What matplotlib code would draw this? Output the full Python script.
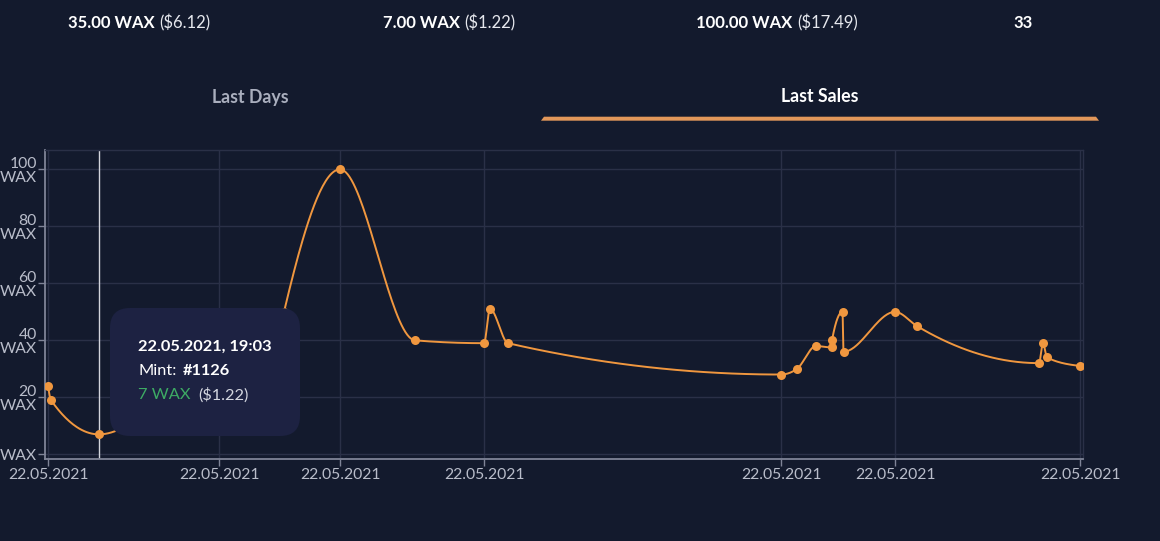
import numpy as np
import matplotlib
matplotlib.use('Agg')
import matplotlib.pyplot as plt
from matplotlib.patches import FancyBboxPatch, Polygon

# sale positions along the time axis (relative units) and prices in WAX
sale_time = [0, 3, 51, 171, 218, 236, 292, 367, 436, 442, 460, 733, 749, 768,
             783.5, 784, 794.5, 795.5, 847, 869, 991, 995, 999, 1032]
sale_wax = [24, 19, 7, 30, 20, 50, 100, 40, 39, 51, 39, 28, 30, 38,
            37.5, 40, 50, 36, 50, 45, 32, 39, 34, 31]
tick_idx = [0, 3, 6, 8, 11, 18, 23]
date_label = '22.05.2021'
y_ticks = [0, 20, 40, 60, 80, 100]
y_labels = ['WAX', '20\nWAX', '40\nWAX', '60\nWAX', '80\nWAX', '100\nWAX']

stats = [('35.00 WAX', '($6.12)'), ('7.00 WAX', '($1.22)'),
         ('100.00 WAX', '($17.49)'), ('33', '')]
stat_x = [139, 449, 777, 1023]
tabs = ['Last Days', 'Last Sales']
tab_x = [250, 820]

hover = 2
tip_date = '22.05.2021, 19:03'
tip_mint = '#1126'
tip_wax = '7 WAX'
tip_usd = '($1.22)'

BG = '#131a2d'
GRID = '#2a3047'
AXIS = '#7f8497'
LABEL = '#b9bdca'
ORANGE = '#f0973f'
TIP = '#1d2242'
GREEN = '#3dab64'

plt.rcParams['font.family'] = ['Lato', 'DejaVu Sans']


def monotone_x(x, y, n=40):
    # same curve as d3 curveMonotoneX
    x = np.asarray(x, float)
    y = np.asarray(y, float)
    h = np.diff(x)
    s = np.diff(y) / h
    t = np.zeros(len(x))
    for i in range(1, len(x) - 1):
        p = (s[i - 1] * h[i] + s[i] * h[i - 1]) / (h[i - 1] + h[i])
        t[i] = (np.sign(s[i - 1]) + np.sign(s[i])) * min(abs(s[i - 1]), abs(s[i]), 0.5 * abs(p))
    t[0] = (3 * s[0] - t[1]) / 2
    t[-1] = (3 * s[-1] - t[-2]) / 2
    xs, ys = [], []
    u = np.linspace(0, 1, n)
    h00 = 2 * u**3 - 3 * u**2 + 1
    h10 = u**3 - 2 * u**2 + u
    h01 = -2 * u**3 + 3 * u**2
    h11 = u**3 - u**2
    for i in range(len(x) - 1):
        xs.append(x[i] + u * h[i])
        ys.append(h00 * y[i] + h10 * h[i] * t[i] + h01 * y[i + 1] + h11 * h[i] * t[i + 1])
    return np.concatenate(xs), np.concatenate(ys)


W, H = 1160, 541
fig = plt.figure(figsize=(W / 100, H / 100), dpi=100, facecolor=BG)

ax = fig.add_axes([45 / W, (H - 459.3) / H, 1038 / W, 309.3 / H])
ax.set_facecolor(BG)
ax.set_xlim(-3, 1035)
ax.set_ylim(-1.75, 106.8)

for v in y_ticks:
    ax.axhline(v, color=GRID, lw=1, zorder=0)
for i in tick_idx:
    ax.axvline(sale_time[i], color=GRID, lw=1, zorder=0)

for side in ['left', 'bottom']:
    ax.spines[side].set_color(AXIS)
    ax.spines[side].set_linewidth(1.3)
for side in ['top', 'right']:
    ax.spines[side].set_color(GRID)
    ax.spines[side].set_linewidth(1)

ax.set_yticks(y_ticks)
ax.set_yticklabels(y_labels)
ax.set_xticks([sale_time[i] for i in tick_idx])
ax.set_xticklabels([date_label] * len(tick_idx))
ax.tick_params(axis='both', length=5, width=1, color=AXIS, labelcolor=LABEL, labelsize=11.3)
ax.tick_params(axis='y', pad=1)
ax.tick_params(axis='x', pad=1)
for lab in ax.get_yticklabels():
    lab.set_multialignment('right')
    lab.set_linespacing(1.05)

# hover cursor
ax.axvline(sale_time[hover], color='#d2d4dc', lw=1, zorder=1)

cx, cy = monotone_x(sale_time, sale_wax)
ax.plot(cx, cy, color=ORANGE, lw=1.4, zorder=3, solid_capstyle='round')
ax.plot(sale_time, sale_wax, 'o', color=ORANGE, ms=6.5, mew=0, zorder=4)

# overlay in pixel coordinates for header and tooltip
ov = fig.add_axes([0, 0, 1, 1], zorder=5)
ov.set_xlim(0, W)
ov.set_ylim(H, 0)
ov.axis('off')
ov.patch.set_alpha(0)

renderer = fig.canvas.get_renderer()


def runs(x, y, parts, size, center=False, gap=4):
    objs = []
    for txt, weight, color in parts:
        objs.append(ov.text(0, y, txt, fontsize=size, fontweight=weight, color=color,
                            va='center', ha='left', zorder=7))
    widths = [o.get_window_extent(renderer).width for o in objs]
    total = sum(widths) + gap * (len(objs) - 1)
    pos = x - total / 2 if center else x
    for o, w in zip(objs, widths):
        o.set_x(pos)
        pos += w + gap


for (bold, light), sx in zip(stats, stat_x):
    parts = [(bold, 'bold', 'white')]
    if light:
        parts.append((light, 'normal', '#e6e8ee'))
    runs(sx, 23, parts, 12, center=True)

ov.text(tab_x[0], 97, tabs[0], fontsize=12.8, fontweight='bold', color='#a9aebd',
        ha='center', va='center')
ov.text(tab_x[1], 97, tabs[1], fontsize=12.8, fontweight='bold', color='white',
        ha='center', va='center')
ov.add_patch(Polygon([[541, 120.7], [544, 116.7], [1096, 116.7], [1099, 120.7]],
                     closed=True, color='#e2975a', lw=0))

# tooltip
ov.add_patch(FancyBboxPatch((130, 328), 150, 88, boxstyle='round,pad=20,rounding_size=20',
                            fc=TIP, ec='none', zorder=6))
runs(138, 347, [(tip_date, 'bold', 'white')], 11.8)
runs(138, 371, [('Mint:', 'normal', 'white'), (tip_mint, 'bold', 'white')], 11.8, gap=6)
runs(138, 395, [(tip_wax, 'normal', GREEN), (tip_usd, 'normal', '#d4d7e0')], 11.8, gap=8)

fig.savefig('out.png', dpi=100, facecolor=BG)
